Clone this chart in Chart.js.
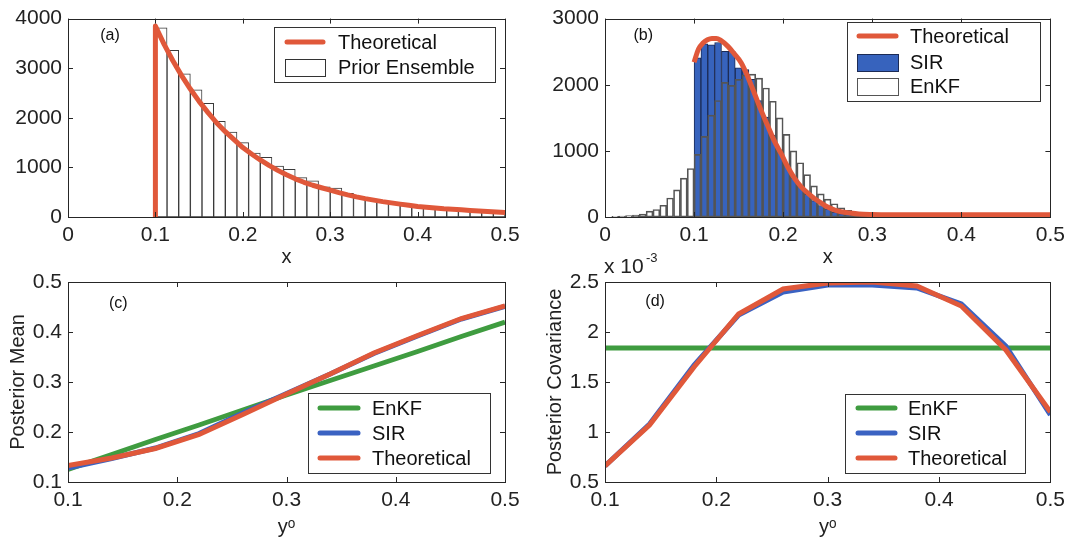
<!DOCTYPE html>
<html lang="en">
<head>
<meta charset="UTF-8">
<title>Prior / posterior comparison</title>
<script src="https://cdn.jsdelivr.net/npm/chart.js"></script>
<style>
body{margin:0;background:#fff;}
#wrap{position:relative;width:1071px;height:540px;}
canvas{position:absolute;}
</style>
</head>
<body>
<div id="wrap">
<canvas id="cA" width="535" height="270" style="left:0;top:0"></canvas>
<canvas id="cB" width="536" height="270" style="left:535px;top:0"></canvas>
<canvas id="cC" width="535" height="290" style="left:0;top:250px"></canvas>
<canvas id="cD" width="536" height="290" style="left:535px;top:250px"></canvas>
</div>
<script>
// ---- (a) prior ensemble histogram + theoretical pdf ----
const priorBinX = [0.10667, 0.12, 0.13333, 0.14667, 0.16, 0.17333, 0.18667, 0.2, 0.21333, 0.22667,
  0.24, 0.25333, 0.26667, 0.28, 0.29333, 0.30667, 0.32, 0.33333, 0.34667, 0.36,
  0.37333, 0.38667, 0.4, 0.41333, 0.42667, 0.44, 0.45333, 0.46667, 0.48, 0.49333];
const priorCounts = [3815, 3359, 2889, 2565, 2294, 1931, 1712, 1501, 1289, 1203,
  1025, 959, 793, 727, 608, 582, 476, 397, 350, 317,
  278, 231, 212, 178, 159, 145, 132, 119, 106, 93];
const priorTheoX = [0.1, 0.1, 0.11, 0.12, 0.13, 0.14, 0.15, 0.16, 0.17, 0.18, 0.19, 0.2,
  0.21, 0.22, 0.23, 0.24, 0.25, 0.26, 0.27, 0.28, 0.29, 0.3,
  0.31, 0.32, 0.33, 0.34, 0.35, 0.36, 0.37, 0.38, 0.39, 0.4,
  0.41, 0.42, 0.43, 0.44, 0.45, 0.46, 0.47, 0.48, 0.49, 0.5];
const priorTheoY = [0, 3850, 3480, 3150, 2850, 2580, 2330, 2110, 1900, 1720, 1560, 1400,
  1270, 1150, 1040, 940, 850, 770, 700, 640, 590, 540,
  490, 445, 405, 370, 340, 310, 285, 260, 235, 210,
  195, 180, 165, 155, 145, 132, 120, 110, 100, 92];

// ---- (b) posterior histograms (SIR, EnKF) + theoretical ----
const postBinX = [0.00385, 0.01154, 0.01923, 0.02692, 0.03462, 0.04231, 0.05, 0.05769, 0.06538, 0.07308,
  0.08077, 0.08846, 0.09615, 0.10385, 0.11154, 0.11923, 0.12692, 0.13462, 0.14231, 0.15,
  0.15769, 0.16538, 0.17308, 0.18077, 0.18846, 0.19615, 0.20385, 0.21154, 0.21923, 0.22692,
  0.23462, 0.24231, 0.25, 0.25769, 0.26538, 0.27308, 0.28077, 0.28846, 0.29615, 0.30385,
  0.31154, 0.31923, 0.32692, 0.33462, 0.34231, 0.35];
const enkfCounts = [0, 10, 15, 20, 30, 45, 89, 114, 178, 287,
  411, 589, 733, 946, 1218, 1540, 1762, 2035, 1990, 2080,
  2150, 2160, 2100, 1950, 1750, 1500, 1250, 1000, 820, 640,
  470, 350, 270, 200, 140, 100, 70, 45, 28, 15,
  5, 0, 0, 0, 0, 0];
const sirCounts = [0, 0, 0, 0, 0, 0, 0, 0, 0, 0,
  0, 0, 0, 2405, 2618, 2603, 2638, 2504, 2504, 2256,
  2231, 2082, 1760, 1512, 1239, 1016, 793, 595, 471, 347,
  248, 174, 124, 74, 50, 35, 20, 15, 12, 10,
  8, 6, 5, 5, 4, 3];
const postTheoX = [0.1, 0.105, 0.11, 0.115, 0.12, 0.125, 0.13, 0.138, 0.145, 0.153, 0.16, 0.168,
  0.175, 0.183, 0.19, 0.198, 0.205, 0.213, 0.22, 0.228, 0.235, 0.243, 0.25, 0.258,
  0.265, 0.275, 0.285, 0.3, 0.32, 0.35, 0.4, 0.45, 0.5];
const postTheoY = [2340, 2540, 2630, 2680, 2700, 2700, 2670, 2580, 2470, 2330, 2130, 1860,
  1620, 1370, 1150, 950, 760, 580, 460, 356, 280, 208, 150, 104,
  80, 60, 45, 38, 35, 35, 35, 35, 35];

// ---- (c) posterior mean vs observation ----
const obsY = [0.1, 0.14, 0.18, 0.22, 0.26, 0.3, 0.34, 0.38, 0.42, 0.46, 0.5];
const meanEnKF = [0.125, 0.155, 0.185, 0.214, 0.244, 0.274, 0.303, 0.332, 0.361, 0.391, 0.42];
const meanSIR  = [0.128, 0.147, 0.168, 0.197, 0.238, 0.277, 0.316, 0.357, 0.392, 0.426, 0.451];
const meanTheo = [0.133, 0.148, 0.167, 0.195, 0.235, 0.276, 0.316, 0.358, 0.393, 0.427, 0.452];

// ---- (d) posterior covariance (x 10^-3) ----
const covEnKF = [1.84, 1.84, 1.84, 1.84, 1.84, 1.84, 1.84, 1.84, 1.84, 1.84, 1.84];
const covSIR  = [0.66, 1.08, 1.67, 2.17, 2.40, 2.47, 2.47, 2.44, 2.28, 1.86, 1.17];
const covTheo = [0.66, 1.07, 1.65, 2.18, 2.43, 2.49, 2.50, 2.46, 2.26, 1.82, 1.20];

const FONT = "'Liberation Sans', Arial, Helvetica, 'DejaVu Sans', sans-serif";
const RED = '#e0583a', BLUE = '#3a62c2', GREEN = '#3f9c40', SIRFILL = '#3763bd';

Chart.defaults.font.family = FONT;
Chart.defaults.font.size = 20;
Chart.defaults.color = '#222';

function pts(xs, ys){ return xs.map((x,i)=>({x:x, y:ys[i]})); }
function fmt(v){ return String(Math.round(v*1000)/1000); }

// legend boxes, panel tags (canvas-local px / data coords)
const LEGENDS = {
  cA: {left:274, top:27, width:221, height:55, rows:[42,67], sample:[285,325], textX:338,
       items:[{label:'Theoretical', kind:'line', color:RED},
              {label:'Prior Ensemble', kind:'box', color:'#fff', border:'#333'}]},
  cB: {left:312, top:22, width:193, height:79, rows:[36,62,86], sample:[322,363], textX:375,
       items:[{label:'Theoretical', kind:'line', color:RED},
              {label:'SIR', kind:'box', color:SIRFILL, border:'#1c2b55'},
              {label:'EnKF', kind:'box', color:'#fff', border:'#555'}]},
  cC: {left:308, top:143, width:182, height:80, rows:[158,183,208], sample:[318,360], textX:372,
       items:[{label:'EnKF', kind:'line', color:GREEN},
              {label:'SIR', kind:'line', color:BLUE},
              {label:'Theoretical', kind:'line', color:RED}]},
  cD: {left:310, top:144, width:180, height:79, rows:[158,183,208], sample:[321,362], textX:373,
       items:[{label:'EnKF', kind:'line', color:GREEN},
              {label:'SIR', kind:'line', color:BLUE},
              {label:'Theoretical', kind:'line', color:RED}]}
};
const TAGS = {
  cA: {text:'(a)', x:0.048, y:3663},
  cB: {text:'(b)', x:0.043, y:2748},
  cC: {text:'(c)', x:0.146, y:0.456},
  cD: {text:'(d)', x:0.145, y:2.3}
};

const decor = {
  id: 'decor',
  afterDatasetsDraw(chart){
    const {ctx, chartArea:a} = chart;
    const xs = chart.scales.x, ys = chart.scales.y;
    ctx.save();
    ctx.strokeStyle = '#262626';
    ctx.lineWidth = 1;
    ctx.beginPath();
    xs.ticks.forEach(t => {
      const p = Math.round(xs.getPixelForValue(t.value)) + 0.5;
      ctx.moveTo(p, a.bottom); ctx.lineTo(p, a.bottom - 5);
      ctx.moveTo(p, a.top); ctx.lineTo(p, a.top + 5);
    });
    ys.ticks.forEach(t => {
      const p = Math.round(ys.getPixelForValue(t.value)) + 0.5;
      ctx.moveTo(a.left, p); ctx.lineTo(a.left + 5, p);
      ctx.moveTo(a.right, p); ctx.lineTo(a.right - 5, p);
    });
    ctx.stroke();
    ctx.strokeRect(Math.round(a.left) + 0.5, Math.round(a.top) + 0.5, Math.round(a.width), Math.round(a.height));

    const tag = TAGS[chart.canvas.id];
    if (tag) {
      ctx.fillStyle = '#111';
      ctx.font = '16px ' + FONT;
      ctx.textAlign = 'center';
      ctx.textBaseline = 'middle';
      ctx.fillText(tag.text, xs.getPixelForValue(tag.x), ys.getPixelForValue(tag.y));
    }
    if (chart.canvas.id === 'cD') {
      ctx.fillStyle = '#222';
      ctx.textAlign = 'left';
      ctx.textBaseline = 'alphabetic';
      ctx.font = '21px ' + FONT;
      ctx.fillText('x 10', a.left - 1, a.top - 9);
      ctx.font = '13px ' + FONT;
      ctx.fillText('-3', a.left + 41, a.top - 20);
    }

    const L = LEGENDS[chart.canvas.id];
    if (L) {
      ctx.fillStyle = '#fff';
      ctx.fillRect(L.left, L.top, L.width, L.height);
      ctx.strokeStyle = '#333';
      ctx.strokeRect(L.left + 0.5, L.top + 0.5, L.width, L.height);
      L.items.forEach((it, i) => {
        const y = L.rows[i];
        if (it.kind === 'line') {
          ctx.strokeStyle = it.color; ctx.lineWidth = 5; ctx.lineCap = 'round';
          ctx.beginPath(); ctx.moveTo(L.sample[0] + 2, y); ctx.lineTo(L.sample[1] - 2, y); ctx.stroke();
        } else {
          ctx.fillStyle = it.color;
          ctx.fillRect(L.sample[0], y - 8, L.sample[1] - L.sample[0], 17);
          ctx.strokeStyle = it.border; ctx.lineWidth = 1; ctx.lineCap = 'butt';
          ctx.strokeRect(L.sample[0] + 0.5, y - 8 + 0.5, L.sample[1] - L.sample[0], 17);
        }
        ctx.fillStyle = '#111';
        ctx.font = '20px ' + FONT;
        ctx.textAlign = 'left';
        ctx.textBaseline = 'middle';
        ctx.fillText(it.label, L.textX, y + 1);
      });
    }
    ctx.restore();
  }
};

function axes(xr, yr, xTitle, yTitle, yWidth, xHeight, yTitlePad){
  return {
    x: {type:'linear', min:xr[0], max:xr[1], offset:false,
        ticks:{stepSize:xr[2], autoSkip:false, maxRotation:0, padding:6, callback:fmt, font:{size:21}},
        grid:{display:false, drawTicks:false}, border:{display:false},
        title:{display:true, text:xTitle, padding:{top:0, bottom:1}},
        afterFit: s => { s.height = xHeight; }},
    y: {type:'linear', min:yr[0], max:yr[1],
        ticks:{stepSize:yr[2], autoSkip:false, padding:6, callback:fmt, font:{size:21}},
        grid:{display:false, drawTicks:false}, border:{display:false},
        title:{display:!!yTitle, text:yTitle || '', padding:{top:yTitlePad, bottom:0}},
        afterFit: s => { s.width = yWidth; }}
  };
}

function baseOpts(pad, scales){
  return {
    responsive:false, animation:false,
    layout:{padding:pad},
    plugins:{legend:{display:false}, tooltip:{enabled:false}},
    scales:scales
  };
}

new Chart('cA', {
  type:'bar',
  data:{datasets:[
    {type:'line', data:pts(priorTheoX, priorTheoY), borderColor:RED, borderWidth:5,
     pointRadius:0, tension:0, borderJoinStyle:'round'},
    {type:'bar', data:pts(priorBinX, priorCounts), backgroundColor:'#fff', borderColor:'#3a3a3a',
     borderWidth:1, borderSkipped:false, barPercentage:1, categoryPercentage:1, grouped:false}
  ]},
  options:baseOpts({left:0, right:30, top:15, bottom:0},
    axes([0,0.5,0.1], [0,4000,1000], 'x', null, 68, 53, 0)),
  plugins:[decor]
});

new Chart('cB', {
  type:'bar',
  data:{datasets:[
    {type:'line', data:pts(postTheoX, postTheoY), borderColor:RED, borderWidth:5,
     pointRadius:0, cubicInterpolationMode:'monotone'},
    {type:'bar', data:pts(postBinX, enkfCounts), backgroundColor:'rgba(255,255,255,0)', borderColor:'#555',
     borderWidth:1, borderSkipped:false, barPercentage:1, categoryPercentage:1, grouped:false},
    {type:'bar', data:pts(postBinX, sirCounts), backgroundColor:SIRFILL, borderColor:'#1c2b55',
     borderWidth:1, borderSkipped:false, barPercentage:1, categoryPercentage:1, grouped:false}
  ]},
  options:baseOpts({left:0, right:20, top:15, bottom:0},
    axes([0,0.5,0.1], [0,3000,1000], 'x', null, 70, 53, 0)),
  plugins:[decor]
});

new Chart('cC', {
  type:'line',
  data:{datasets:[
    {data:pts(obsY, meanTheo), borderColor:RED, borderWidth:5, pointRadius:0, tension:0},
    {data:pts(obsY, meanSIR), borderColor:BLUE, borderWidth:5, pointRadius:0, tension:0},
    {data:pts(obsY, meanEnKF), borderColor:GREEN, borderWidth:5, pointRadius:0, tension:0}
  ]},
  options:baseOpts({left:0, right:30, top:32, bottom:0},
    axes([0.1,0.5,0.1], [0.1,0.5,0.1], 'yᵒ', 'Posterior Mean', 68, 58, 6)),
  plugins:[decor]
});

new Chart('cD', {
  type:'line',
  data:{datasets:[
    {data:pts(obsY, covTheo), borderColor:RED, borderWidth:5, pointRadius:0, tension:0},
    {data:pts(obsY, covSIR), borderColor:BLUE, borderWidth:5, pointRadius:0, tension:0},
    {data:pts(obsY, covEnKF), borderColor:GREEN, borderWidth:5, pointRadius:0, tension:0}
  ]},
  options:baseOpts({left:0, right:20, top:32, bottom:0},
    axes([0.1,0.5,0.1], [0.5,2.5,0.5], 'yᵒ', 'Posterior Covariance', 70, 58, 8)),
  plugins:[decor]
});
</script>
</body>
</html>
